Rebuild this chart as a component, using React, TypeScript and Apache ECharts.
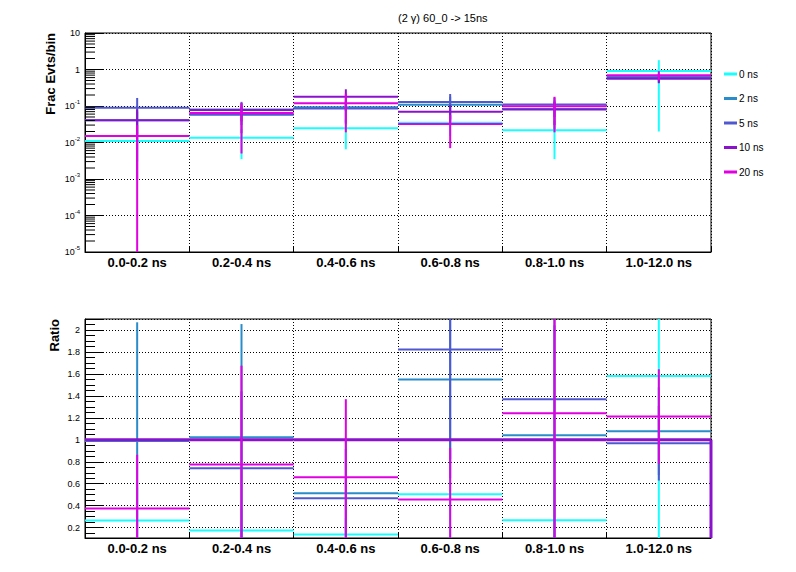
import React, { useEffect, useRef } from "react";
import * as echarts from "echarts";

// ---------- data ----------
const categories = ["0.0-0.2 ns", "0.2-0.4 ns", "0.4-0.6 ns", "0.6-0.8 ns", "0.8-1.0 ns", "1.0-12.0 ns"];
const seriesNames = ["0 ns", "2 ns", "5 ns", "10 ns", "20 ns"];
const seriesColors = ["#19ffff", "#2a8cca", "#5058d0", "#8a12cc", "#e100e1"];

// top panel: fraction of events per bin
const frac0 = [0.011, 0.0136, 0.0245, 0.035, 0.0215, 0.91];
const frac2 = [0.0406, 0.08, 0.092, 0.109, 0.083, 0.63];
const frac5 = [0.09, 0.058, 0.085, 0.128, 0.11, 0.557];
const frac10 = [0.041, 0.078, 0.18, 0.07, 0.08, 0.575];
const frac20 = [0.015, 0.064, 0.119, 0.032, 0.099, 0.7];

const fracErr0 = [0.008, 0.0101, 0.018, 0.02, 0.018, 0.89];
const fracErr2 = [0.03, 0.05, 0.06, 0.07, 0.06, 0.12];
const fracErr5 = [0.076, 0.04, 0.05, 0.085, 0.06, 0.12];
const fracErr10 = [0.04, 0.04, 0.107, 0.036, 0.05, 0.155];
const fracErr20 = [0.015, 0.059, 0.1, 0.025, 0.08, 0.2];

// bottom panel: ratio to 10 ns
const ratio0 = [0.265, 0.174, 0.138, 0.505, 0.268, 1.58];
const ratio2 = [0.99, 1.024, 0.514, 1.55, 1.042, 1.078];
const ratio5 = [2.2, 0.741, 0.468, 1.822, 1.37, 0.969];
const ratio10 = [1, 1, 1, 1, 1, 1];
const ratio20 = [0.374, 0.775, 0.66, 0.456, 1.242, 1.212];

const ratioErr0 = [0.3, 0.2, 0.15, 0.4, 0.3, 1.6];
const ratioErr2 = [1.08, 1.03, 0.5, 0.9, 1.0, 0.4];
const ratioErr5 = [1.5, 0.7, 0.45, 1.0, 1.3, 0.34];
const ratioErr10 = [0, 0, 0, 0, 0, 0];
const ratioErr20 = [0.49, 0.9, 0.71, 0.47, 1.3, 0.43];

const logDecades = [-5, -4, -3, -2, -1, 0];
const logMinorMultipliers = [2, 3, 4, 5, 6, 7, 8, 9];

const titleText = "(2 \u03b3) 60_0 -> 15ns";
const yTitleTop = "Frac Evts/bin";
const yTitleBottom = "Ratio";

const ratioMin = 0.106;
const ratioMax = 2.1;

const fracSets = [frac0, frac2, frac5, frac10, frac20];
const fracErrSets = [fracErr0, fracErr2, fracErr5, fracErr10, fracErr20];
const ratioSets = [ratio0, ratio2, ratio5, ratio10, ratio20];
const ratioErrSets = [ratioErr0, ratioErr2, ratioErr5, ratioErr10, ratioErr20];

const FONT = "Liberation Sans, Arial, Helvetica, sans-serif";

function clamp(v: number, a: number, b: number) {
  return Math.max(a, Math.min(b, v));
}

function makeRender(color: string, width: number, isLog: boolean, dropLast: boolean, skipOut: boolean) {
  return (params: any, api: any) => {
    const i = api.value(0);
    const v = api.value(1);
    const e = api.value(2);
    const cs = params.coordSys;
    const top = cs.y;
    const bottom = cs.y + cs.height;
    if (skipOut && (v > ratioMax || v < ratioMin)) {
      return { type: "group", children: [] };
    }
    const c = api.coord([i, v]);
    const w = api.coord([1, v])[0] - api.coord([0, v])[0];
    const children: any[] = [];
    const yc = clamp(c[1], top, bottom);
    children.push({
      type: "line",
      shape: { x1: c[0] - w / 2, y1: yc, x2: c[0] + w / 2, y2: yc },
      style: { stroke: color, lineWidth: width },
    });
    if (e > 0) {
      const hi = v + e;
      const lo = v - e;
      const yHi = clamp(api.coord([i, hi])[1], top, bottom);
      const yLo = isLog && lo <= 0 ? bottom : clamp(api.coord([i, lo])[1], top, bottom);
      children.push({
        type: "line",
        shape: { x1: c[0], y1: yHi, x2: c[0], y2: yLo },
        style: { stroke: color, lineWidth: 2 },
      });
    }
    if (dropLast && i === categories.length - 1) {
      const xr = c[0] + w / 2;
      children.push({
        type: "line",
        shape: { x1: xr, y1: yc, x2: xr, y2: bottom },
        style: { stroke: color, lineWidth: width },
      });
    }
    return { type: "group", children };
  };
}

function buildOption() {
  const minorTicks: number[][] = [];
  logDecades.forEach((n) => logMinorMultipliers.forEach((k) => minorTicks.push([0, k * Math.pow(10, n)])));

  const series: any[] = [];
  seriesNames.forEach((name, s) => {
    series.push({
      type: "custom",
      name,
      xAxisIndex: 0,
      yAxisIndex: 0,
      itemStyle: { color: seriesColors[s] },
      renderItem: makeRender(seriesColors[s], 2, true, false, false),
      data: fracSets[s].map((v, i) => [i, v, fracErrSets[s][i]]),
      silent: true,
    });
  });
  seriesNames.forEach((name, s) => {
    const is10 = name === "10 ns";
    series.push({
      type: "custom",
      name,
      xAxisIndex: 1,
      yAxisIndex: 1,
      itemStyle: { color: seriesColors[s] },
      renderItem: makeRender(seriesColors[s], is10 ? 3 : 2, false, is10, true),
      data: ratioSets[s].map((v, i) => [i, v, ratioErrSets[s][i]]),
      silent: true,
    });
  });
  series.push({
    type: "custom",
    name: "minorTicks",
    xAxisIndex: 0,
    yAxisIndex: 0,
    silent: true,
    renderItem: (params: any, api: any) => {
      const cs = params.coordSys;
      const y = api.coord([0, api.value(1)])[1];
      return {
        type: "line",
        shape: { x1: cs.x, y1: y, x2: cs.x + 10, y2: y },
        style: { stroke: "#000", lineWidth: 1 },
      };
    },
    data: minorTicks,
  });

  const gridLine = { show: true, lineStyle: { color: "#000", width: 1, type: [1, 2] } };
  const xAxisCommon = {
    type: "category",
    data: categories,
    axisLine: { lineStyle: { color: "#000", width: 1 } },
    axisTick: { show: true, inside: true, length: 5, lineStyle: { color: "#000" } },
    splitLine: gridLine,
    axisLabel: { color: "#000", fontSize: 13, fontWeight: "bold", fontFamily: FONT, margin: 4 },
  };

  return {
    animation: false,
    backgroundColor: "#fff",
    title: {
      text: titleText,
      left: 393,
      top: 7,
      textStyle: { fontSize: 11, fontWeight: "normal", color: "#000", fontFamily: FONT },
    },
    legend: {
      data: seriesNames,
      orient: "vertical",
      left: 719,
      top: 64,
      icon: "rect",
      itemWidth: 13,
      itemHeight: 3,
      itemGap: 14.5,
      selectedMode: false,
      textStyle: { fontSize: 10, color: "#000", fontFamily: FONT, padding: [0, 0, 0, -3] },
    },
    grid: [
      { left: 85, top: 33, width: 626, height: 219, show: true, borderColor: "#000", borderWidth: 1, backgroundColor: "transparent" },
      { left: 85, top: 319, width: 626, height: 219, show: true, borderColor: "#000", borderWidth: 1, backgroundColor: "transparent" },
    ],
    xAxis: [
      { ...xAxisCommon, gridIndex: 0 },
      { ...xAxisCommon, gridIndex: 1 },
    ],
    yAxis: [
      {
        type: "log",
        gridIndex: 0,
        logBase: 10,
        min: 1e-5,
        max: 10,
        axisLine: { show: true, lineStyle: { color: "#000", width: 1 } },
        axisTick: { show: true, inside: true, length: 18, lineStyle: { color: "#000" } },
        splitLine: gridLine,
        axisLabel: {
          margin: 5,
          formatter: (v: number) => {
            const n = Math.round(Math.log10(v));
            if (n === 1) return "{b|10}";
            if (n === 0) return "{b|1}";
            return "{b|10}{s|" + n + "}";
          },
          rich: {
            b: { fontSize: 9, color: "#000", fontFamily: FONT, lineHeight: 14 },
            s: { fontSize: 6, color: "#000", fontFamily: FONT, lineHeight: 8, verticalAlign: "top" },
          },
        },
      },
      {
        type: "value",
        gridIndex: 1,
        min: ratioMin,
        max: ratioMax,
        splitNumber: 10,
        minInterval: 0.2,
        maxInterval: 0.2,
        axisLine: { show: true, lineStyle: { color: "#000", width: 1 } },
        axisTick: { show: true, inside: true, length: 18, lineStyle: { color: "#000" } },
        minorTick: { show: true, splitNumber: 4, length: 10, lineStyle: { color: "#000" } },
        splitLine: gridLine,
        axisLabel: {
          margin: 5,
          showMinLabel: false,
          showMaxLabel: false,
          color: "#000",
          fontSize: 9,
          fontFamily: FONT,
          formatter: (v: number) => String(Number(v.toFixed(1))),
        },
      },
    ],
    graphic: [
      {
        type: "text",
        x: 50,
        y: 33,
        rotation: Math.PI / 2,
        style: { text: yTitleTop, fontSize: 13, fontWeight: "bold", fontFamily: FONT, fill: "#000", align: "right", verticalAlign: "middle" },
      },
      {
        type: "text",
        x: 54,
        y: 319,
        rotation: Math.PI / 2,
        style: { text: yTitleBottom, fontSize: 13, fontWeight: "bold", fontFamily: FONT, fill: "#000", align: "right", verticalAlign: "middle" },
      },
    ],
    series,
  };
}

export default function App() {
  const ref = useRef<HTMLDivElement>(null);
  useEffect(() => {
    const chart = echarts.init(ref.current!, null, { renderer: "svg" });
    chart.setOption(buildOption() as any);
    return () => chart.dispose();
  }, []);
  return <div ref={ref} style={{ position: "fixed", left: 0, top: 0, width: 796, height: 572 }} />;
}
